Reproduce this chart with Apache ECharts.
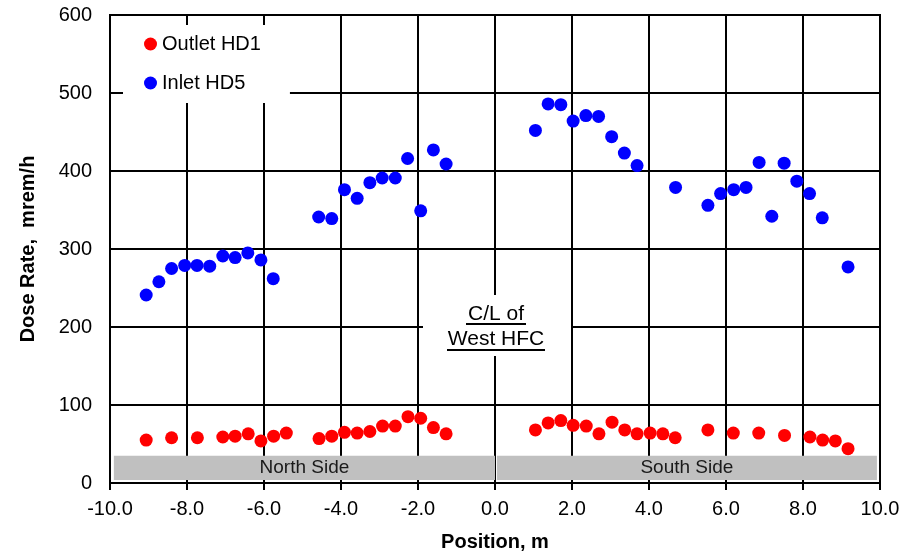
<!DOCTYPE html>
<html>
<head>
<meta charset="utf-8">
<style>
  html, body { margin: 0; padding: 0; background: #fff; }
  #main { width: 904px; height: 558px; }
</style>
</head>
<body>
<div id="main"></div>
<script src="https://cdn.jsdelivr.net/npm/echarts@6/dist/echarts.min.js"></script>
<script>
// position along the wall (m) and dose rate (mrem/h)
var inletX = [-9.06, -8.73, -8.40, -8.06, -7.74, -7.41, -7.07, -6.75, -6.42, -6.08, -5.76,
  -4.58, -4.24, -3.91, -3.58, -3.25, -2.93, -2.59, -2.27, -1.93, -1.60, -1.27,
  1.05, 1.38, 1.71, 2.03, 2.36, 2.69, 3.03, 3.36, 3.69,
  4.69, 5.53, 5.86, 6.20, 6.52, 6.86, 7.19, 7.51, 7.84, 8.17, 8.50, 9.17];
var inletY = [241, 258, 275, 279, 279, 278, 291, 289, 295, 286, 262,
  341, 339, 376, 365, 385, 391, 391, 416, 349, 427, 409,
  452, 486, 485, 464, 471, 470, 444, 423, 407,
  379, 356, 371, 376, 379, 411, 342, 410, 387, 371, 340, 277];

var outletX = [-9.06, -8.40, -7.73, -7.07, -6.75, -6.41, -6.08, -5.75, -5.42,
  -4.57, -4.24, -3.91, -3.58, -3.25, -2.92, -2.59, -2.26, -1.93, -1.60, -1.27,
  1.05, 1.38, 1.71, 2.03, 2.37, 2.70, 3.04, 3.37, 3.69, 4.03, 4.36, 4.68,
  5.53, 6.19, 6.85, 7.52, 8.18, 8.51, 8.84, 9.17];
var outletY = [55, 58, 58, 59, 60, 63, 54, 60, 64,
  57, 60, 65, 64, 66, 73, 73, 85, 83, 71, 63,
  68, 77, 80, 74, 73, 63, 78, 68, 63, 64, 63, 58,
  68, 64, 64, 61, 59, 55, 54, 44];

// side bands along the bottom: [name, x from, x to, y from, y to]
var bands = [
  ['North Side', -9.9, 0.0, 4, 35],
  ['South Side', 0.05, 9.92, 4, 35]
];

var font = 'Liberation Sans, Arial, sans-serif';

function pairs(xs, ys) {
  return xs.map(function (x, i) { return [x, ys[i]]; });
}

var chart = echarts.init(document.getElementById('main'), null, { renderer: 'canvas' });

chart.setOption({
  animation: false,
  backgroundColor: '#fff',
  textStyle: { fontFamily: font },
  grid: {
    left: 110, right: 24, top: 15, bottom: 75,
    show: true, borderColor: '#000', borderWidth: 2, backgroundColor: 'transparent'
  },
  legend: {
    orient: 'vertical',
    left: 123, top: 25,
    padding: [9, 29, 10, 21],
    itemGap: 19,
    itemWidth: 13, itemHeight: 13,
    backgroundColor: '#fff',
    icon: 'circle',
    textStyle: { fontSize: 20, color: '#000', fontFamily: font },
    data: ['Outlet HD1', 'Inlet HD5']
  },
  xAxis: {
    type: 'value',
    min: -10, max: 10, interval: 2,
    name: 'Position, m',
    nameLocation: 'middle',
    nameGap: 49,
    nameTextStyle: { fontSize: 20, fontWeight: 'bold', color: '#000', fontFamily: font },
    axisLine: { onZero: false, lineStyle: { color: '#000', width: 2 } },
    axisTick: { inside: false, length: 7, lineStyle: { color: '#000', width: 2 } },
    axisLabel: {
      margin: 16, fontSize: 20, color: '#000', fontFamily: font,
      formatter: function (v) { return v.toFixed(1); }
    },
    splitLine: { show: true, lineStyle: { color: '#000', width: 2 } }
  },
  yAxis: {
    type: 'value',
    min: 0, max: 600, interval: 100,
    name: 'Dose Rate,  mrem/h',
    nameLocation: 'middle',
    nameGap: 72,
    nameTextStyle: { fontSize: 20, fontWeight: 'bold', color: '#000', fontFamily: font },
    axisLine: { show: true, lineStyle: { color: '#000', width: 2 } },
    axisTick: { show: true, inside: false, length: 7, lineStyle: { color: '#000', width: 2 } },
    axisLabel: { margin: 18, fontSize: 20, color: '#000', fontFamily: font },
    splitLine: { show: true, lineStyle: { color: '#000', width: 2 } }
  },
  series: [
    {
      name: 'bands',
      type: 'scatter',
      data: [],
      silent: true,
      markArea: {
        silent: true,
        itemStyle: { color: '#c0c0c0' },
        label: {
          show: true, position: 'inside',
          fontSize: 19, color: '#1a1a1a', fontFamily: font
        },
        data: bands.map(function (b) {
          return [{ name: b[0], xAxis: b[1], yAxis: b[3] }, { xAxis: b[2], yAxis: b[4] }];
        })
      }
    },
    {
      name: 'Outlet HD1',
      type: 'scatter',
      symbol: 'circle',
      symbolSize: 13,
      itemStyle: { color: '#ff0000', opacity: 1 },
      data: pairs(outletX, outletY),
      z: 3
    },
    {
      name: 'Inlet HD5',
      type: 'scatter',
      symbol: 'circle',
      symbolSize: 13,
      itemStyle: { color: '#0000ff', opacity: 1 },
      data: pairs(inletX, inletY),
      z: 3
    }
  ],
  graphic: [
    {
      type: 'rect', left: 423, top: 295, z: 50,
      shape: { width: 148, height: 61 },
      style: { fill: '#fff' }
    },
    {
      type: 'text', x: 496, y: 314, z: 51,
      style: { text: 'C/L of', font: '21px ' + font, fill: '#000', align: 'center', verticalAlign: 'middle' }
    },
    {
      type: 'line', z: 51,
      shape: { x1: 466, y1: 324, x2: 526, y2: 324 },
      style: { stroke: '#000', lineWidth: 2 }
    },
    {
      type: 'text', x: 496, y: 339, z: 51,
      style: { text: 'West HFC', font: '21px ' + font, fill: '#000', align: 'center', verticalAlign: 'middle' }
    },
    {
      type: 'line', z: 51,
      shape: { x1: 447, y1: 350, x2: 545, y2: 350 },
      style: { stroke: '#000', lineWidth: 2 }
    }
  ]
});
</script>
</body>
</html>
